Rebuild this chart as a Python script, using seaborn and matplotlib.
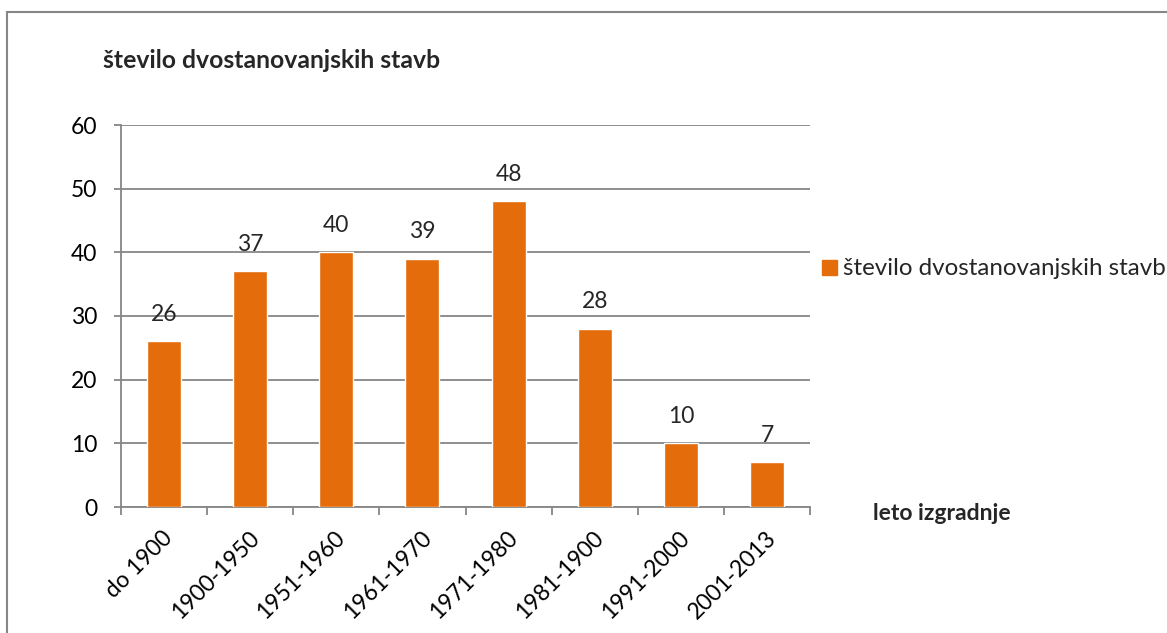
import matplotlib
matplotlib.use("Agg")
import matplotlib.pyplot as plt
import matplotlib.transforms as mtransforms
import seaborn as sns
import pandas as pd
from matplotlib.patches import Rectangle
from matplotlib.ticker import FixedLocator, NullFormatter

categories = ["do 1900", "1900-1950", "1951-1960", "1961-1970", "1971-1980",
              "1981-1900", "1991-2000", "2001-2013"]
values = [26, 37, 40, 39, 48, 28, 10, 7]
series_name = "število dvostanovanjskih stavb"
y_title = "število dvostanovanjskih stavb"
x_title = "leto izgradnje"
y_ticks = [0, 10, 20, 30, 40, 50, 60]

BAR = "#E46C0A"
GRID = "#868686"

sns.set_theme(style="white")
plt.rcParams["font.family"] = ["Lato", "DejaVu Sans"]

W, H = 1167, 633
fig = plt.figure(figsize=(W / 100, H / 100), dpi=100)
ax = fig.add_axes([121 / W, 1 - 507 / H, (810 - 121) / W, (507 - 125) / H])

df = pd.DataFrame({"cat": categories, "val": values})
sns.barplot(data=df, x="cat", y="val", color=BAR, width=0.395, ax=ax,
            saturation=1, zorder=3)

ax.set_ylim(0, 60)
ax.set_xlim(-0.5, len(categories) - 0.5)
ax.set_yticks(y_ticks)
ax.yaxis.grid(True, color=GRID, linewidth=1.3, zorder=0)
ax.set_axisbelow(True)
for s in ["top", "right"]:
    ax.spines[s].set_visible(False)
for s in ["left", "bottom"]:
    ax.spines[s].set_color(GRID)
    ax.spines[s].set_linewidth(1.3)

ax.set_xlabel("")
ax.set_ylabel("")
ax.tick_params(axis="y", which="major", length=5, width=1.3, color=GRID,
               direction="out", pad=12, labelsize=16.5, labelcolor="black", left=True)
ax.tick_params(axis="x", which="major", length=0, pad=20, labelsize=16.5, labelcolor="black")
shift = mtransforms.ScaledTranslation(4 / 72, 0, fig.dpi_scale_trans)
for lab in ax.get_xticklabels():
    lab.set_rotation(45)
    lab.set_ha("right")
    lab.set_va("center")
    lab.set_rotation_mode("anchor")
    lab.set_transform(lab.get_transform() + shift)
ax.xaxis.set_minor_locator(FixedLocator([i - 0.5 for i in range(len(categories) + 1)]))
ax.xaxis.set_minor_formatter(NullFormatter())
ax.tick_params(axis="x", which="minor", length=6, width=1.3, color=GRID,
               direction="out", bottom=True)

for c in ax.containers:
    ax.bar_label(c, labels=[str(v) for v in values], padding=12, fontsize=16.5)

fig.text(103 / W, 1 - 60 / H, y_title, fontsize=17.8, fontweight="bold",
         ha="left", va="center")
fig.text(873 / W, 1 - 513 / H, x_title, fontsize=16.5, fontweight="bold",
         ha="left", va="center")

# legend
fig.patches.append(Rectangle((822 / W, 1 - 275 / H), 15 / W, 15 / H,
                             transform=fig.transFigure, color=BAR))
fig.text(843 / W, 1 - 268 / H, series_name, fontsize=17.4, ha="left", va="center")

# chart border
fig.patches.append(Rectangle((7 / W, -0.1), 1.5, 1.1 - 12.5 / H,
                             transform=fig.transFigure, fill=False,
                             edgecolor=GRID, linewidth=1.5))

fig.savefig("out.png", dpi=100)
